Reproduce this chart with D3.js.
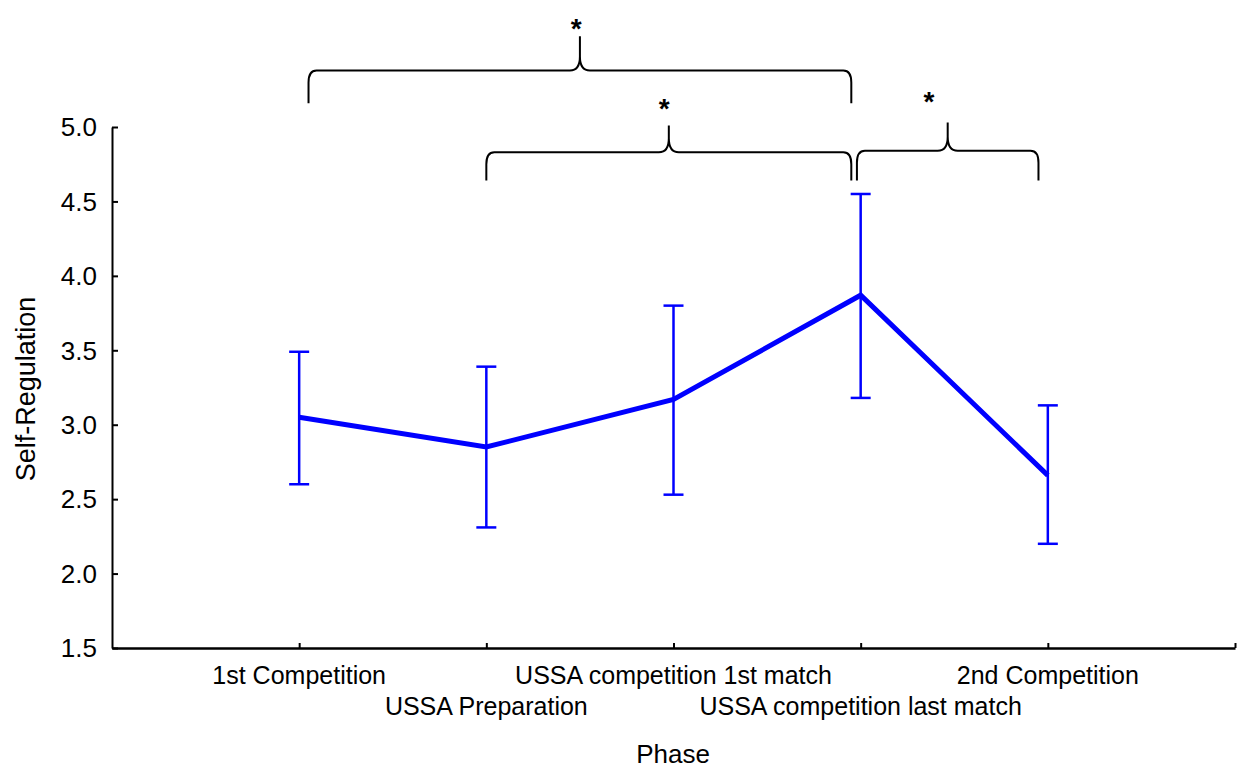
<!DOCTYPE html>
<html lang="en">
<head>
<meta charset="UTF-8">
<title>Self-Regulation by Phase</title>
<script src="https://cdn.jsdelivr.net/npm/d3@7"></script>
<style>
  body { margin: 0; background: #fff; }
  text { font-family: "Liberation Sans", Arial, sans-serif; }
</style>
</head>
<body>
<script>
// phases along the x axis
var phases = ["1st Competition", "USSA Preparation", "USSA competition 1st match",
              "USSA competition last match", "2nd Competition"];
// mean and error bar ends
var means = [3.05, 2.85, 3.17, 3.87, 2.66];
var upper = [3.49, 3.39, 3.80, 4.55, 3.13];
var lower = [2.60, 2.31, 2.53, 3.18, 2.20];
var yTicks = [1.5, 2.0, 2.5, 3.0, 3.5, 4.0, 4.5, 5.0];
// significance braces, in phase / value units:
// [from, to, level, bottom, peak, star x, star y]
var braces = [
    [1.05, 3.95, 5.38, 5.16, 5.61, 2.48, 5.70],
    [2.0, 3.95, 4.83, 4.64, 5.01, 2.95, 5.16],
    [3.98, 4.95, 4.84, 4.64, 5.03, 4.365, 5.21]
];

var W = 1239, H = 769;
var svg = d3.select("body").append("svg")
    .attr("width", W).attr("height", H);

var x = d3.scaleLinear().domain([0, 6]).range([112, 1235]);
var y = d3.scaleLinear().domain([1.5, 5.0]).range([648, 127]);

// y axis
var yAxis = svg.append("g").attr("transform", "translate(112,0)")
    .call(d3.axisLeft(y).tickValues(yTicks).tickFormat(d3.format(".1f"))
        .tickSize(-6).tickSizeOuter(0).tickPadding(15));
yAxis.select(".domain").attr("stroke-width", 2);
yAxis.selectAll(".tick line").attr("stroke-width", 2);
yAxis.selectAll(".tick text").attr("font-size", 26).attr("fill", "#000")
    .attr("dy", "0.34em");

// x axis
var xAxis = svg.append("g").attr("transform", "translate(0,648)")
    .call(d3.axisBottom(x).tickValues([1, 2, 3, 4, 5, 6]).tickFormat("")
        .tickSize(-5).tickSizeOuter(0));
xAxis.select(".domain").attr("stroke-width", 2.5);
xAxis.selectAll(".tick line").attr("stroke-width", 2);

svg.selectAll(".phase")
    .data(phases)
    .enter().append("text")
    .attr("class", "phase")
    .attr("x", function (d, i) { return x(i + 1); })
    .attr("y", function (d, i) { return i % 2 === 0 ? 684 : 715; })
    .attr("text-anchor", "middle")
    .attr("font-size", 25)
    .text(function (d) { return d; });

svg.append("text")
    .attr("x", 673).attr("y", 763)
    .attr("text-anchor", "middle").attr("font-size", 26)
    .text("Phase");

svg.append("text")
    .attr("transform", "translate(35,389) rotate(-90)")
    .attr("text-anchor", "middle").attr("font-size", 27)
    .text("Self-Regulation");

// error bars
var bars = svg.append("g").attr("stroke", "#0000ff").attr("stroke-width", 2.5);
means.forEach(function (m, i) {
    var cx = x(i + 1);
    bars.append("line").attr("x1", cx).attr("x2", cx)
        .attr("y1", y(lower[i])).attr("y2", y(upper[i]));
    [lower[i], upper[i]].forEach(function (v) {
        bars.append("line").attr("x1", cx - 10).attr("x2", cx + 10)
            .attr("y1", y(v)).attr("y2", y(v));
    });
});

// mean line
var line = d3.line()
    .x(function (d, i) { return x(i + 1); })
    .y(function (d) { return y(d); });
svg.append("path")
    .datum(means)
    .attr("d", line)
    .attr("fill", "none")
    .attr("stroke", "#0000ff")
    .attr("stroke-width", 5)
    .attr("stroke-linejoin", "miter");

// curly braces with asterisks
braces.forEach(function (b) {
    var x0 = x(b[0]), x1 = x(b[1]), xm = (x0 + x1) / 2;
    var yh = y(b[2]), yb = y(b[3]), ytop = y(b[4]);
    var r = 8;
    var p = d3.path();
    p.moveTo(x0, yb);
    p.lineTo(x0, yh + r * 1.5);
    p.quadraticCurveTo(x0, yh, x0 + r, yh);
    p.lineTo(xm - 10, yh);
    p.quadraticCurveTo(xm, yh, xm, yh - 14);
    p.lineTo(xm, ytop);
    p.moveTo(xm, yh - 14);
    p.quadraticCurveTo(xm, yh, xm + 10, yh);
    p.lineTo(x1 - r, yh);
    p.quadraticCurveTo(x1, yh, x1, yh + r * 1.5);
    p.lineTo(x1, yb);
    svg.append("path").attr("d", p.toString())
        .attr("fill", "none").attr("stroke", "#000").attr("stroke-width", 2);
    svg.append("text")
        .attr("x", x(b[5])).attr("y", y(b[6]) + 15)
        .attr("text-anchor", "middle")
        .attr("font-size", 28).attr("font-weight", "bold")
        .text("*");
});
</script>
</body>
</html>
